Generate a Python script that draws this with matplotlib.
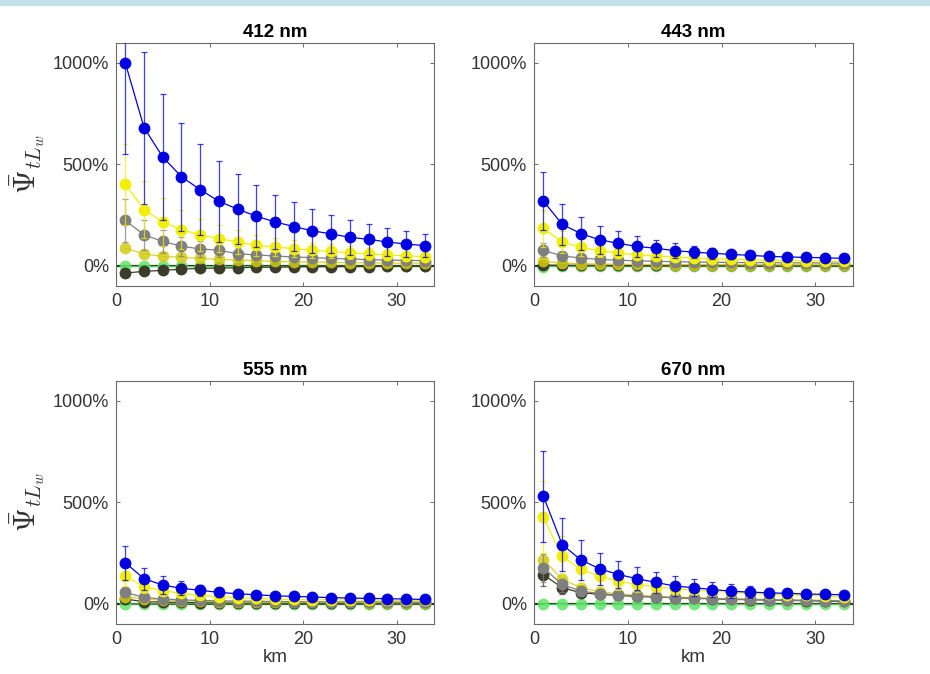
import matplotlib.pyplot as plt
import numpy as np
from matplotlib.patches import Rectangle
from matplotlib.ticker import FuncFormatter

# ---------------- DATA ----------------
km = [1, 3, 5, 7, 9, 11, 13, 15, 17, 19, 21, 23, 25, 27, 29, 31, 33]
titles = ["412 nm", "443 nm", "555 nm", "670 nm"]

# 412 nm
blue_412 = [1000, 681, 536, 439, 375, 318, 279, 244, 216, 193, 172, 157, 140, 130, 117, 107, 99]
blue_412_err = [450, 375, 309, 267, 226, 200, 173, 154, 135, 119, 107, 92, 86, 75, 68, 63, 58]
yellow_412 = [401, 277, 215, 178, 152, 134, 117, 100, 92, 84, 76, 71, 63, 58, 53, 48, 45]
yellow_412_err = [200, 140, 120, 95, 80, 68, 60, 52, 46, 42, 38, 35, 32, 29, 27, 25, 23]
gray_412 = [223, 152, 120, 96, 83, 76, 59, 53, 48, 43, 40, 36, 33, 30, 28, 26, 25]
gray_412_err = [107, 75, 58, 47, 40, 35, 30, 27, 24, 22, 20, 18, 17, 15, 14, 13, 12]
olive_412 = [87, 58, 46, 41, 36, 31, 28, 25, 21, 19, 18, 16, 15, 14, 13, 12, 12]
green_412 = [0, 0, 0, 0, 0, 0, 0, 0, 0, 0, 0, 0, 0, 0, 0, 0, 0]
dark_412 = [-36, -28, -23, -17, -13, -12, -10, -8, -7, -6, -5, -5, -4, -4, -3, -3, -3]

# 443 nm
blue_443 = [319, 204, 158, 128, 110, 95, 86, 74, 67, 61, 56, 51, 46, 43, 41, 39, 36]
blue_443_err = [145, 102, 80, 69, 59, 50, 42, 38, 30, 26, 22, 19, 17, 15, 14, 13, 12]
yellow_443 = [184, 117, 90, 74, 62, 54, 48, 43, 38, 35, 32, 29, 27, 25, 24, 22, 21]
yellow_443_err = [90, 55, 40, 32, 26, 22, 19, 17, 15, 13, 12, 11, 10, 9, 9, 8, 8]
gray_443 = [76, 48, 38, 31, 27, 24, 22, 20, 18, 17, 16, 15, 15, 14, 14, 13, 13]
gray_443_err = [35, 22, 16, 13, 11, 10, 9, 8, 7, 7, 6, 6, 6, 5, 5, 5, 5]
olive_443 = [21, 13, 10, 8, 7, 6, 6, 5, 5, 5, 5, 4, 4, 4, 4, 4, 4]
green_443 = [-5, -3, -2, -2, -1, -1, -1, -1, -1, -1, 0, 0, 0, 0, 0, 0, 0]
dark_443 = [3, 2, 2, 2, 2, 1, 1, 1, 1, 1, 1, 1, 1, 1, 1, 1, 1]

# 555 nm
blue_555 = [202, 123, 92, 76, 66, 56, 49, 44, 39, 36, 33, 30, 28, 26, 25, 23, 21]
blue_555_err = [84, 53, 44, 34, 26, 21, 18, 15, 13, 12, 11, 10, 9, 8, 8, 7, 7]
yellow_555 = [137, 84, 64, 51, 41, 35, 30, 26, 23, 21, 20, 19, 18, 17, 17, 16, 16]
yellow_555_err = [50, 30, 22, 17, 14, 12, 10, 9, 8, 7, 7, 6, 6, 6, 5, 5, 5]
gray_555 = [56, 31, 23, 19, 16, 14, 13, 12, 11, 10, 10, 9, 9, 9, 8, 8, 8]
gray_555_err = [22, 12, 9, 7, 6, 5, 5, 4, 4, 4, 3, 3, 3, 3, 3, 3, 3]
olive_555 = [35, 23, 17, 14, 12, 10, 9, 8, 7, 7, 6, 6, 6, 5, 5, 5, 5]
green_555 = [-2, -1, -1, 0, 0, 0, 0, 0, 0, 0, 0, 0, 0, 0, 0, 0, 0]
dark_555 = [23, 10, 8, 6, 5, 4, 4, 3, 3, 3, 2, 2, 2, 2, 2, 2, 2]

# 670 nm
blue_670 = [530, 292, 216, 172, 144, 123, 105, 87, 79, 70, 62, 57, 54, 51, 48, 46, 44]
blue_670_err = [224, 131, 97, 80, 67, 56, 52, 49, 41, 38, 33, 28, 25, 22, 20, 18, 17]
yellow_670 = [426, 234, 169, 136, 111, 95, 84, 74, 67, 62, 56, 51, 46, 44, 41, 38, 34]
yellow_670_err = [177, 100, 72, 55, 45, 38, 33, 29, 26, 24, 22, 20, 18, 17, 16, 15, 14]
gray_670 = [177, 95, 62, 50, 43, 37, 33, 30, 27, 25, 23, 21, 19, 18, 16, 15, 14]
gray_670_err = [70, 38, 26, 20, 17, 15, 13, 12, 11, 10, 9, 8, 8, 7, 7, 6, 6]
olive_670 = [218, 120, 79, 59, 49, 42, 37, 33, 30, 27, 25, 23, 21, 19, 18, 16, 15]
green_670 = [0, 0, 0, 0, 0, 0, 0, 0, 0, 0, 0, 0, 0, 0, 0, 0, 0]
dark_670 = [143, 79, 54, 46, 41, 36, 33, 30, 26, 25, 21, 20, 18, 16, 15, 13, 11]
dark_670_err = [55, 30, 20, 16, 14, 12, 11, 10, 9, 8, 7, 7, 6, 6, 5, 5, 5]

panels = [
    (blue_412, blue_412_err, yellow_412, yellow_412_err, gray_412, gray_412_err, olive_412, green_412, dark_412, None),
    (blue_443, blue_443_err, yellow_443, yellow_443_err, gray_443, gray_443_err, olive_443, green_443, dark_443, None),
    (blue_555, blue_555_err, yellow_555, yellow_555_err, gray_555, gray_555_err, olive_555, green_555, dark_555, None),
    (blue_670, blue_670_err, yellow_670, yellow_670_err, gray_670, gray_670_err, olive_670, green_670, dark_670, dark_670_err),
]

# ---------------- STYLE ----------------
BLUE = "#0000e0"
YELLOW = "#f2f000"
GRAY = "#7f7f7f"
OLIVE = "#d2cc10"
GREEN = "#5fe36a"
DARK = "#3c3c2c"
MS = 8.5

plt.rcParams["font.family"] = ["Liberation Sans", "DejaVu Sans"]
plt.rcParams["mathtext.fontset"] = "cm"

fig = plt.figure(figsize=(9.3, 6.74), dpi=100)
fig.patches.append(Rectangle((0, 0.993), 1, 0.007, transform=fig.transFigure,
                             color="#c2e2e8", zorder=0))

positions = [
    [0.1247, 0.5757, 0.342, 0.361],
    [0.5742, 0.5757, 0.343, 0.361],
    [0.1247, 0.0742, 0.342, 0.361],
    [0.5742, 0.0742, 0.343, 0.361],
]


def series(ax, y, err, color, alpha=1.0, z=3):
    if err is not None:
        ax.errorbar(km, y, yerr=err, fmt="none", ecolor=color, elinewidth=0.9,
                    capsize=2.5, capthick=0.9, alpha=0.75 * alpha, zorder=z)
    ax.plot(km, y, "-", color=color, lw=0.9, alpha=alpha, zorder=z)
    ax.plot(km, y, "o", color=color, ms=MS, mec="none", alpha=alpha, zorder=z + 0.5)


for i, (pos, data) in enumerate(zip(positions, panels)):
    b, be, yv, ye, g, ge, o, gr, d, de = data
    ax = fig.add_axes(pos)
    ax.axhline(0, color="#203a20", lw=1.6, zorder=2)
    series(ax, gr, None, GREEN, alpha=0.85, z=3)
    series(ax, d, de, DARK, z=4)
    series(ax, o, None, OLIVE, alpha=0.85, z=5)
    series(ax, g, ge, GRAY, z=6)
    series(ax, yv, ye, YELLOW, z=7)
    series(ax, b, be, BLUE, z=8)

    ax.set_xlim(0, 34)
    ax.set_ylim(-100, 1100)
    ax.set_xticks([0, 10, 20, 30])
    ax.set_yticks([0, 500, 1000])
    ax.yaxis.set_major_formatter(FuncFormatter(lambda v, p: f"{v:.0f}%"))
    ax.tick_params(direction="in", top=True, right=True, length=3, pad=5,
                   labelsize=13, colors="#555555", labelcolor="#333333", width=0.6)
    for s in ax.spines.values():
        s.set_color("#6a6a6a")
        s.set_linewidth(0.8)
    ax.set_title(titles[i], fontsize=13.5, fontweight="bold", pad=4)
    if i % 2 == 0:
        ax.set_ylabel(r"$\bar{\Psi}_{tL_w}$", fontsize=22, labelpad=4, color="#333333")
    if i >= 2:
        ax.set_xlabel("km", fontsize=13.5, labelpad=1, color="#333333")

fig.savefig("out.png", dpi=100)
